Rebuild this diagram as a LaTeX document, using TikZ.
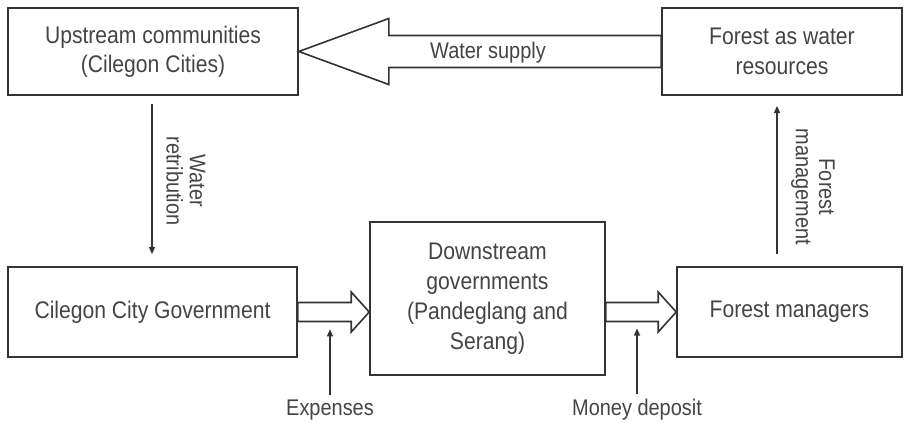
\documentclass[tikz,border=0pt]{standalone}
\usepackage{fontspec}
\setmainfont{Liberation Sans}[FakeStretch=0.88]
\usetikzlibrary{arrows.meta,positioning,calc}
\definecolor{boxline}{HTML}{333333}
\definecolor{boxtext}{HTML}{444444}

\begin{document}
\begin{tikzpicture}[x=0.75pt,y=0.75pt,yscale=-1,xscale=1,
  box/.style={draw=boxline, line width=1.2pt, text=boxtext, align=center, inner sep=2pt, font=\fontsize{18}{22}\selectfont},
  lbl/.style={text=boxtext, align=center, inner sep=3pt, font=\fontsize{17}{17.5}\selectfont},
  thinarrow/.style={draw=boxline, line width=1.2pt, -{Triangle[length=5.5pt,width=4.5pt]}},
  hollow/.style={draw=boxline, line width=1.2pt, fill=white, line join=miter}]
\useasboundingbox (0,0) rectangle (912,422);

% Boxes
\node[box, minimum width=217.5pt, minimum height=65.25pt] (up) at (153,51.5) {Upstream communities\\(Cilegon Cities)};
\node[box, minimum width=180pt, minimum height=65.25pt] (fwr) at (782,51.5) {Forest as water\\resources};
\node[box, minimum width=216.75pt, minimum height=67.5pt] (cil) at (152.5,312) {Cilegon City Government};
\node[box, minimum width=176.25pt, minimum height=114.75pt, font=\fontsize{18}{22.5}\selectfont] (down) at (487.5,298.5) {Downstream\\governments\\(Pandeglang and\\Serang)};
\node[box, minimum width=168.75pt, minimum height=67.5pt] (fm) at (789.5,312) {Forest managers};

% Water supply (hollow arrow)
\draw[hollow] ($(fwr.west)+(0,-16)$) -- ($(up.east)+(90,-16)$) -- ($(up.east)+(90,-33)$) -- (up.east) -- ($(up.east)+(90,33)$) -- ($(up.east)+(90,16)$) -- ($(fwr.west)+(0,16)$) -- cycle;
\node[lbl] (ws) at (488,53) {Water supply};

% Money flows (hollow arrows)
\coordinate (etip) at (cil.east -| down.west);
\draw[hollow] ($(cil.east)+(0,-9.5)$) -- ($(etip)+(-18,-9.5)$) -- ($(etip)+(-18,-20)$) -- (etip) -- ($(etip)+(-18,20)$) -- ($(etip)+(-18,9.5)$) -- ($(cil.east)+(0,9.5)$) -- cycle;
\coordinate (dstart) at (down.east |- fm.west);
\draw[hollow] ($(dstart)+(0,-9.5)$) -- ($(fm.west)+(-18,-9.5)$) -- ($(fm.west)+(-18,-20)$) -- (fm.west) -- ($(fm.west)+(-18,20)$) -- ($(fm.west)+(-18,9.5)$) -- ($(dstart)+(0,9.5)$) -- cycle;

% Vertical arrows
\draw[thinarrow] ($(up.south)+(-1,8)$) -- ($(cil.north)+(-0.5,-12)$);
\node[lbl, rotate=-90] (wr) at (186,181) {Water\\retribution};
\draw[thinarrow] ($(fm.north)+(-12.5,-12)$) -- ($(fwr.south)+(-5,10)$);
\node[lbl, rotate=-90] (fmg) at (813,187) {Forest\\management};

% Bottom labels
\node[lbl, anchor=base] (exp) at (330,415) {Expenses};
\draw[thinarrow] (exp.north) -- ++(0,-66);
\node[lbl, anchor=base] (md) at (637,415) {Money deposit};
\draw[thinarrow] (md.north) -- ++(0,-66);

\end{tikzpicture}
\end{document}
